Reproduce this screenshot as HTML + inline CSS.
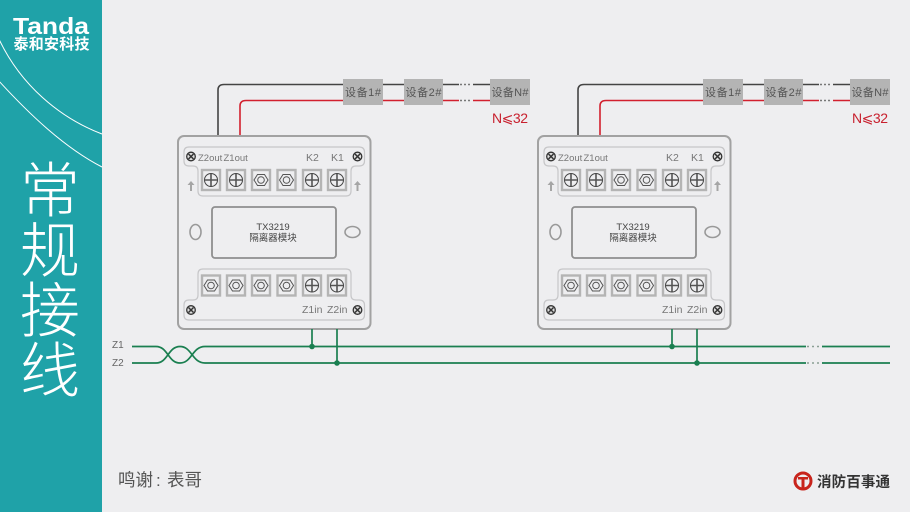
<!DOCTYPE html>
<html><head><meta charset="utf-8"><style>
html,body{margin:0;padding:0;background:#eeeef0}
svg{display:block}
text{font-family:"Liberation Sans","Noto Sans CJK SC",sans-serif}
</style></head><body>
<svg width="910" height="512" viewBox="0 0 910 512" xmlns="http://www.w3.org/2000/svg">
<defs>
<g id="ph"><rect x="-9" y="-10" width="18" height="20" fill="#eeeef0" stroke="#b4b4b4" stroke-width="2.400"/><circle r="6.500" fill="none" stroke="#444" stroke-width="1"/><path d="M-6 0H6M0-6V6" stroke="#555" stroke-width="1.600"/></g>
<g id="hx"><rect x="-9" y="-10" width="18" height="20" fill="#eeeef0" stroke="#b4b4b4" stroke-width="2.400"/><path d="M-7 0L-3.500-5.500H3.500L7 0L3.500 5.500H-3.500Z" fill="none" stroke="#555" stroke-width="1"/><circle r="3.300" fill="none" stroke="#555" stroke-width="1"/></g>
<g id="sc"><circle r="4.300" fill="#ddd" stroke="#333" stroke-width="1.300"/><path d="M-2.500-2.500L2.500 2.500M2.500-2.500L-2.500 2.500" stroke="#333" stroke-width="1.500"/></g>
<g id="ar"><path d="M0-5L-3.500-1H-1V5H1V-1H3.500Z" fill="#a5a5a5"/></g>
<g id="body">
<rect x="178" y="136" width="192.500" height="193" rx="6" fill="#eeeef0" stroke="#a2a2a2" stroke-width="2"/>
<path d="M189 147H359Q364.500 147 364.500 152V161Q364.500 166 359 166H356Q351 166 351 171V191Q351 196 346 196H203Q198 196 198 191V171Q198 166 193 166H189Q184 166 184 161V152Q184 147 189 147Z" fill="none" stroke="#c6c6c8" stroke-width="1.200"/>
<path d="M203 269H346Q351 269 351 274V295Q351 300 356 300H359Q364.500 300 364.500 305V315Q364.500 320 359 320H189Q184 320 184 315V305Q184 300 189 300H193Q198 300 198 295V274Q198 269 203 269Z" fill="none" stroke="#c6c6c8" stroke-width="1.200"/>
<rect x="212" y="207" width="124" height="51" rx="3" fill="none" stroke="#8f8f8f" stroke-width="1.800"/>
<ellipse cx="195.500" cy="232" rx="5.500" ry="7.500" fill="none" stroke="#999" stroke-width="1.600"/>
<ellipse cx="352.500" cy="232" rx="7.500" ry="5.500" fill="none" stroke="#999" stroke-width="1.600"/>
<use href="#sc" x="191" y="156.500"/><use href="#sc" x="357.500" y="156.500"/>
<use href="#sc" x="191" y="310"/><use href="#sc" x="357.500" y="310"/>
<use href="#ar" x="191" y="186"/><use href="#ar" x="357.500" y="186"/>
<use href="#ph" x="211" y="180"/><use href="#ph" x="236" y="180"/><use href="#hx" x="261" y="180"/><use href="#hx" x="286.500" y="180"/><use href="#ph" x="312" y="180"/><use href="#ph" x="337" y="180"/>
<use href="#hx" x="211" y="285.500"/><use href="#hx" x="236" y="285.500"/><use href="#hx" x="261" y="285.500"/><use href="#hx" x="286.500" y="285.500"/><use href="#ph" x="312" y="285.500"/><use href="#ph" x="337" y="285.500"/>
</g>
<g id="wires">
<path d="M218 136V90Q218 84.500 224 84.500H343M383 84.500H404M443 84.500H459M473 84.500H490" fill="none" stroke="#444" stroke-width="1.600"/>
<path d="M240 136V106Q240 100.500 246 100.500H343M383 100.500H404M443 100.500H459M473 100.500H490" fill="none" stroke="#d2202e" stroke-width="1.600"/>
<path d="M460 84.500h11M460 100.500h11" stroke-dasharray="2 2" fill="none" stroke="#777" stroke-width="1.500"/>
<rect x="343" y="79" width="40" height="26" fill="#b4b4b4"/><rect x="404" y="79" width="39" height="26" fill="#b4b4b4"/><rect x="490" y="79" width="40" height="26" fill="#b4b4b4"/>
</g>
</defs>
<rect width="910" height="512" fill="#eeeef0"/>
<rect width="102" height="512" fill="#1fa2a8"/>
<path d="M-2 37C20 85 60 118 102 134M-2 80C30 115 65 148 102 167" fill="none" stroke="#fff" stroke-width="1"/>
<text x="51" y="34" text-anchor="middle" font-size="23" font-weight="700" fill="#fff" textLength="76" lengthAdjust="spacingAndGlyphs">Tanda</text>
<text x="51.500" y="49" text-anchor="middle" font-size="15" font-weight="700" fill="#fff" textLength="76">泰和安科技</text>
<g font-size="60" fill="#fff" text-anchor="middle" style="font-weight:300">
<text x="50" y="212">常</text><text x="50" y="272">规</text><text x="50" y="332">接</text><text x="50" y="392">线</text>
</g>

<use href="#wires"/><use href="#wires" x="360"/>
<use href="#body"/><use href="#body" x="360"/>

<g font-size="11" fill="#555" text-anchor="middle">
<text x="363" y="96" textLength="36">设备1#</text><text x="423.500" y="96" textLength="36">设备2#</text><text x="510" y="96" textLength="37">设备N#</text>
<text x="723" y="96" textLength="36">设备1#</text><text x="783.500" y="96" textLength="36">设备2#</text><text x="870" y="96" textLength="37">设备N#</text>
</g>
<g font-size="14" fill="#c8202e" text-anchor="middle">
<text x="510" y="123" textLength="36">N⩽32</text><text x="870" y="123" textLength="36">N⩽32</text>
</g>
<g font-size="9.500" fill="#777">
<text x="198" y="161">Z2out</text><text x="223.500" y="161">Z1out</text><text x="306" y="161" font-size="10.500">K2</text><text x="331" y="161" font-size="10.500">K1</text>
<text x="302" y="313" font-size="10.500">Z1in</text><text x="327" y="313" font-size="10.500">Z2in</text>
<text x="558" y="161">Z2out</text><text x="583.500" y="161">Z1out</text><text x="666" y="161" font-size="10.500">K2</text><text x="691" y="161" font-size="10.500">K1</text>
<text x="662" y="313" font-size="10.500">Z1in</text><text x="687" y="313" font-size="10.500">Z2in</text>
</g>
<g font-size="9.500" fill="#444" text-anchor="middle">
<text x="273" y="230">TX3219</text><text x="273" y="241">隔离器模块</text>
<text x="633" y="230">TX3219</text><text x="633" y="241">隔离器模块</text>
</g>

<g fill="none" stroke="#1a7f50" stroke-width="1.700">
<path d="M132 346.500H156C168 346.500 168 363 180 363C192 363 192 346.500 205 346.500H806M822 346.500H890"/>
<path d="M132 363H156C168 363 168 346.500 180 346.500C192 346.500 192 363 205 363H806M822 363H890"/>
<path d="M312 329V346.500M337 329V363M672 329V346.500M697 329V363"/>
</g>
<path d="M807 346.500h15M807 363h15" stroke="#8a9f94" stroke-width="1.500" stroke-dasharray="2 3" fill="none"/>
<g fill="#1a7f50"><circle cx="312" cy="346.500" r="2.800"/><circle cx="337" cy="363" r="2.800"/><circle cx="672" cy="346.500" r="2.800"/><circle cx="697" cy="363" r="2.800"/></g>
<g font-size="10" fill="#666"><text x="112" y="348">Z1</text><text x="112" y="366">Z2</text></g>

<text x="118" y="486" font-size="17.500" fill="#555">鸣谢</text><text x="156" y="486" font-size="17" fill="#555">:</text><text x="167" y="486" font-size="17.500" fill="#555">表哥</text>
<circle cx="803" cy="481" r="8" fill="none" stroke="#c8241c" stroke-width="3"/>
<path d="M798 477h10v2.500h-3.500v8h-3v-8h-3.500z" fill="#c8241c"/>
<text x="817" y="487" font-size="14.500" font-weight="700" fill="#333" textLength="73">消防百事通</text>
</svg>
</body></html>
